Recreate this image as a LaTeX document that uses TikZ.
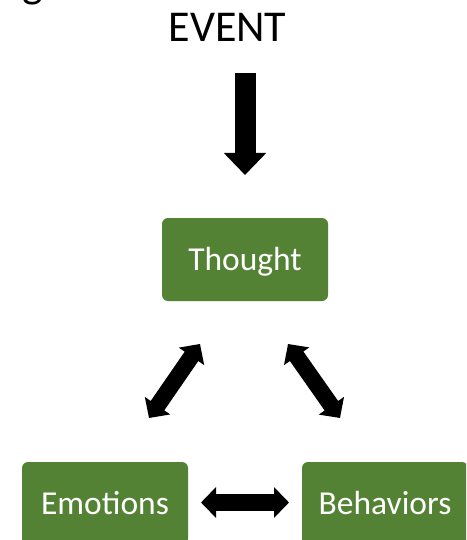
\documentclass[tikz,border=0pt]{standalone}
\usepackage{fontspec}
\setmainfont{Carlito}
\usetikzlibrary{arrows.meta}
\definecolor{boxgreen}{HTML}{548235}
\tikzset{
  stagebox/.style={fill=boxgreen, rounded corners=6pt, minimum width=166pt,
    minimum height=83pt, inner sep=0pt, text=white,
    font=\fontsize{33.5}{40}\selectfont, text height=26pt, text depth=5pt},
  bigtext/.style={font=\fontsize{44}{52}\selectfont, inner sep=0pt, anchor=base},
  downarrow/.style={line width=21pt, -{Triangle[width=41pt,length=22pt]}},
  linkarrow/.style={line width=16.5pt,
    {Triangle[width=30pt,length=15pt]}-{Triangle[width=30pt,length=15pt]}}
}
\begin{document}
\begin{tikzpicture}[x=1pt,y=-1pt]
  \useasboundingbox (0,0) rectangle (466,540);
  \clip (0,0) rectangle (466,540);

  % heading text and the stage boxes
  \node[bigtext] (heading) at (33,-2) {g};
  \node[bigtext] (event) at (227.5,42) {EVENT};
  \node[stagebox] (thought) at (245,259.5) {Thought};
  \node[stagebox] (emotions) at (105,503.5) {Emotions};
  \node[stagebox] (behaviors) at (385,503.5) {Behaviors};

  % arrow ends
  \coordinate (downtop) at (245,73);
  \coordinate (downtip) at (245,175);
  \coordinate (leftup) at (200,344);
  \coordinate (leftdown) at (149,418);
  \coordinate (rightup) at (288,344);
  \coordinate (rightdown) at (340,418);
  \coordinate (midleft) at (201,502.5);
  \coordinate (midright) at (289,502.5);

  % connectors
  \draw[downarrow] (downtop) -- (downtip);
  \draw[linkarrow] (leftdown) -- (leftup);
  \draw[linkarrow] (rightup) -- (rightdown);
  \draw[linkarrow] (midleft) -- (midright);
\end{tikzpicture}
\end{document}
